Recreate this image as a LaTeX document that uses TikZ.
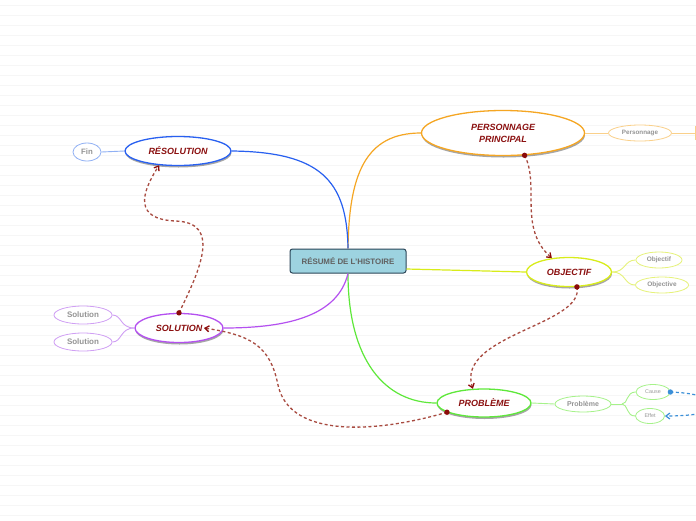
\documentclass[tikz,border=0pt]{standalone}
\usepackage{fontspec}
\setmainfont{Liberation Sans}
\usetikzlibrary{arrows.meta,shapes.geometric,shadows}
\definecolor{rel}{HTML}{A84A40}
\definecolor{reldot}{HTML}{8B0A0A}
\definecolor{lbl}{HTML}{8B1010}
\definecolor{cOrange}{HTML}{F5A623}
\definecolor{cLightOr}{HTML}{FAD08A}
\definecolor{cYellow}{HTML}{D8EC1A}
\definecolor{cLightY}{HTML}{E6F27A}
\definecolor{cGreen}{HTML}{5EE83A}
\definecolor{cLightG}{HTML}{A6F28A}
\definecolor{cPurple}{HTML}{B450F0}
\definecolor{cLightP}{HTML}{D0A0F4}
\definecolor{cBlue}{HTML}{2860F0}
\definecolor{cLightB}{HTML}{90B0F4}
\definecolor{cLink}{HTML}{3A8FD8}
\definecolor{boxfill}{HTML}{9DD3E0}
\definecolor{boxline}{HTML}{2B4658}
\tikzset{
  bgline/.style={draw=black!3.5, line width=0.6pt},
  topic/.style={ellipse, draw, line width=1.3pt, fill=white, inner sep=0pt,
    font=\bfseries\itshape\fontsize{9}{12}\selectfont, text=lbl, align=center,
    drop shadow={shadow xshift=0.5pt, shadow yshift=-2pt, opacity=0.35, fill=black}},
  sub/.style={ellipse, draw, line width=0.8pt, fill=white, inner sep=0pt,
    font=\bfseries\fontsize{6.5}{7}\selectfont, text=black!42},
  tiny/.style={ellipse, draw, line width=0.8pt, fill=white, inner sep=0pt,
    font=\fontsize{5.4}{6}\selectfont, text=black!40},
  branch/.style={line width=1.2pt},
  twig/.style={line width=0.9pt},
  rel/.style={draw=rel, line width=1.3pt, dash pattern=on 3pt off 2.5pt,
    -{Straight Barb[length=4pt,width=6pt,color=reldot]}},
  reldotstyle/.style={fill=reldot},
}
\begin{document}
\begin{tikzpicture}[x=1pt,y=-1pt]
\useasboundingbox[fill=white] (0,0) rectangle (696,520);
\foreach \yy in {5,15,...,515} \draw[bgline] (0,\yy) -- (696,\yy);

% central node
\node[draw=boxline, fill=boxfill, rounded corners=2.5pt, line width=1pt,
  minimum width=116pt, minimum height=24pt, inner sep=0pt,
  font=\bfseries\fontsize{7.9}{9}\selectfont, text=black!62] (root) at (348,261) {RÉSUMÉ DE L'HISTOIRE};

% main topics
\node[topic, draw=cOrange, minimum width=163pt, minimum height=45pt] (pp) at (503,133) {PERSONNAGE\\PRINCIPAL};
\node[topic, draw=cYellow, minimum width=85pt, minimum height=29pt] (obj) at (569,272) {OBJECTIF};
\node[topic, draw=cGreen, minimum width=94pt, minimum height=28pt] (prob) at (484,403) {PROBLÈME};
\node[topic, draw=cPurple, minimum width=88pt, minimum height=29pt] (sol) at (179,328) {SOLUTION};
\node[topic, draw=cBlue, minimum width=106pt, minimum height=29pt] (res) at (178,151) {RÉSOLUTION};

% sub topics
\node[sub, draw=cLightOr, minimum width=63pt, minimum height=16pt, font=\bfseries\fontsize{6.3}{7}\selectfont] (pers) at (640,133) {Personnage};
\node[sub, draw=cLightY, minimum width=46pt, minimum height=16pt] (objA) at (659,260) {Objectif};
\node[sub, draw=cLightY, minimum width=53pt, minimum height=16pt] (objB) at (662,285) {Objective};
\node[sub, draw=cLightG, minimum width=56pt, minimum height=16pt, font=\bfseries\fontsize{7}{8}\selectfont] (pb) at (583,404) {Problème};
\node[tiny, draw=cLightG, minimum width=34pt, minimum height=15pt] (cause) at (653,392) {Cause};
\node[tiny, draw=cLightG, minimum width=29pt, minimum height=15pt] (effet) at (650,416) {Effet};
\node[sub, draw=cLightP, minimum width=58pt, minimum height=18pt, font=\bfseries\fontsize{8}{9}\selectfont] (solA) at (83,315) {Solution};
\node[sub, draw=cLightP, minimum width=58pt, minimum height=18pt, font=\bfseries\fontsize{8}{9}\selectfont] (solB) at (83,342) {Solution};
\node[sub, draw=cLightB, minimum width=28pt, minimum height=18pt, font=\bfseries\fontsize{7.8}{9}\selectfont] (fin) at (87,152) {Fin};

% branches from centre
\draw[branch, cOrange] (root.north) .. controls (349,175) and (365,133) .. (pp.west);
\draw[branch, cBlue] (root.north) .. controls (347,180) and (320,152) .. (res.east);
\draw[branch, cYellow] ([yshift=-8pt]root.east) -- (obj.west);
\draw[branch, cGreen] (root.south) .. controls (348,360) and (385,403) .. (prob.west);
\draw[branch, cPurple] (root.south) .. controls (338,315) and (290,328) .. (sol.east);

% twigs
\coordinate (persEnd) at (696,133);
\draw[twig, cLightOr] (pp.east) -- (pers.west);
\draw[twig, cLightOr] (pers.east) -- (persEnd);
\draw[twig, cLightOr] (695,126) -- (695,140);
\draw[twig, cLightY] (obj.east) .. controls (626,272) and (624,260) .. (objA.west);
\draw[twig, cLightY] (obj.east) .. controls (626,272) and (624,285) .. (objB.west);
\draw[twig, cLightG] (prob.east) -- (pb.west);
\coordinate (pbFork) at (622,404);
\draw[twig, cLightG] (pb.east) -- (pbFork);
\draw[twig, cLightG] (pbFork) .. controls (628,404) and (626,392) .. (cause.west);
\draw[twig, cLightG] (pbFork) .. controls (628,404) and (626,416) .. (effet.west);
\draw[twig, cLightP] (sol.west) .. controls (120,328) and (122,315) .. (solA.east);
\draw[twig, cLightP] (sol.west) .. controls (120,328) and (122,342) .. (solB.east);
\draw[twig, cLightB] (res.west) -- (fin.east);

% relations
\draw[rel] (pp.-46) .. controls (540,185) and (518,228) .. (obj.141);
\draw[rel] (obj.-62) .. controls (585,325) and (455,335) .. (prob.128);
\draw[rel] (sol.north) .. controls (200,270) and (222,222) .. (175,221)
  .. controls (135,219) and (140,195) .. (res.-143);
\draw[rel] (prob.-166) .. controls (380,432) and (290,440) .. (278,385)
  .. controls (270,345) and (250,335) .. ([xshift=25pt]sol.center);
\fill[reldotstyle] (pp.-46) circle (2.7pt);
\fill[reldotstyle] (obj.-62) circle (2.7pt);
\fill[reldotstyle] (sol.north) circle (2.7pt);
\fill[reldotstyle] (prob.-166) circle (2.7pt);
\draw[cLink, line width=1.2pt, dash pattern=on 3pt off 2.5pt,
  -{Straight Barb[length=4pt,width=6pt]}]
  (cause.east) .. controls (725,394) and (735,416) .. (effet.east);
\fill[cLink] (cause.east) circle (2.7pt);
\end{tikzpicture}
\end{document}
